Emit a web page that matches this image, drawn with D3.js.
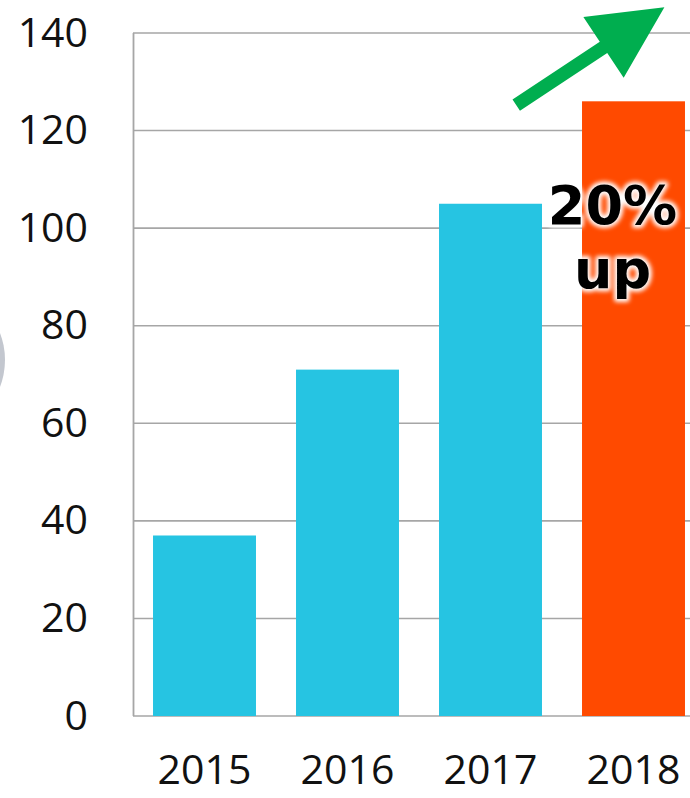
<!DOCTYPE html>
<html><head><meta charset="utf-8">
<script src="https://cdn.jsdelivr.net/npm/d3@7"></script>
<style>html,body{margin:0;padding:0;background:#fff;overflow:hidden}</style>
</head><body>
<script>
const categories = ["2015", "2016", "2017", "2018"];
const values = [37, 71, 105, 126];
const barColors = ["#26C4E2", "#26C4E2", "#26C4E2", "#FF4A00"];
const yTicks = [0, 20, 40, 60, 80, 100, 120, 140];
const annotationLines = ["20%", "up"];

const W = 690, H = 798;
const svg = d3.select("body").append("svg").attr("width", W).attr("height", H);

const x = d3.scaleBand().domain(categories).range([133, 705]).paddingInner(0.28).paddingOuter(0.14);
const y = d3.scaleLinear().domain([0, 140]).range([716, 33]);

// decorative grey circle at left edge
svg.append("circle").attr("cx", -70).attr("cy", 360).attr("r", 75).attr("fill", "#c3c7cf");

// gridlines
svg.append("g").selectAll("line").data(yTicks).join("line")
  .attr("x1", 133).attr("x2", W).attr("y1", d => y(d)).attr("y2", d => y(d))
  .attr("stroke", "#a6a6a6").attr("stroke-width", 1.6);
// y axis line
svg.append("line").attr("x1", 133.5).attr("x2", 133.5).attr("y1", y(140)).attr("y2", y(0))
  .attr("stroke", "#a6a6a6").attr("stroke-width", 1.8);

// y tick labels
const yAxis = d3.axisLeft(y).tickValues(yTicks).tickSize(0).tickPadding(45);
const ya = svg.append("g").attr("transform", "translate(133,0)").call(yAxis);
ya.select(".domain").remove();
ya.selectAll("text").attr("font-family", "'Open Sans', sans-serif").attr("font-size", 41).attr("fill", "#111");

// x labels
const xAxis = d3.axisBottom(x).tickSize(0).tickPadding(39);
const xa = svg.append("g").attr("transform", `translate(0,${y(0)})`).call(xAxis);
xa.select(".domain").remove();
xa.selectAll("text").attr("font-family", "'Open Sans', sans-serif").attr("font-size", 41).attr("fill", "#111");

// bars
svg.append("g").selectAll("rect").data(categories).join("rect")
  .attr("x", d => x(d)).attr("width", x.bandwidth())
  .attr("y", (d, i) => y(values[i])).attr("height", (d, i) => y(0) - y(values[i]))
  .attr("fill", (d, i) => barColors[i]);

// green arrow (annotation, positioned relative to scales)
const sx = x("2017") + x.bandwidth() * 0.75, sy = y(125.2);
const tx = x("2018") + x.bandwidth() * 0.80, ty = y(145.3);
const dx = tx - sx, dy = ty - sy, L = Math.hypot(dx, dy);
const ang = Math.atan2(dy, dx) * 180 / Math.PI;
const sw = 13.5, hw = 73, hl = 73;
const pts = [[0, -sw/2], [L - hl, -sw/2], [L - hl, -hw/2], [L, 0], [L - hl, hw/2], [L - hl, sw/2], [0, sw/2]];
svg.append("path").attr("d", d3.line()(pts) + "Z")
  .attr("transform", `translate(${sx},${sy}) rotate(${ang})`)
  .attr("fill", "#00AE4F");

// annotation text with white glow
const defs = svg.append("defs");
const f = defs.append("filter").attr("id", "glow").attr("x", "-20%").attr("y", "-20%").attr("width", "140%").attr("height", "140%");
f.append("feGaussianBlur").attr("stdDeviation", 2);
const cx = x("2018") + x.bandwidth() / 2 - 21;
const baselines = [y(100.8), y(87.7)];
const tg = svg.append("g").attr("font-family", "'DejaVu Sans', sans-serif").attr("font-weight", "bold")
  .attr("font-size", 54).attr("text-anchor", "middle");
tg.selectAll("text.g").data(annotationLines).join("text").attr("class", "g")
  .attr("x", cx).attr("y", (d, i) => baselines[i]).text(d => d)
  .attr("fill", "#fff").attr("stroke", "#fff").attr("stroke-width", 6).attr("stroke-linejoin", "round")
  .attr("filter", "url(#glow)");
tg.selectAll("text.t").data(annotationLines).join("text").attr("class", "t")
  .attr("x", cx).attr("y", (d, i) => baselines[i]).text(d => d).attr("fill", "#000");
</script>
</body></html>
